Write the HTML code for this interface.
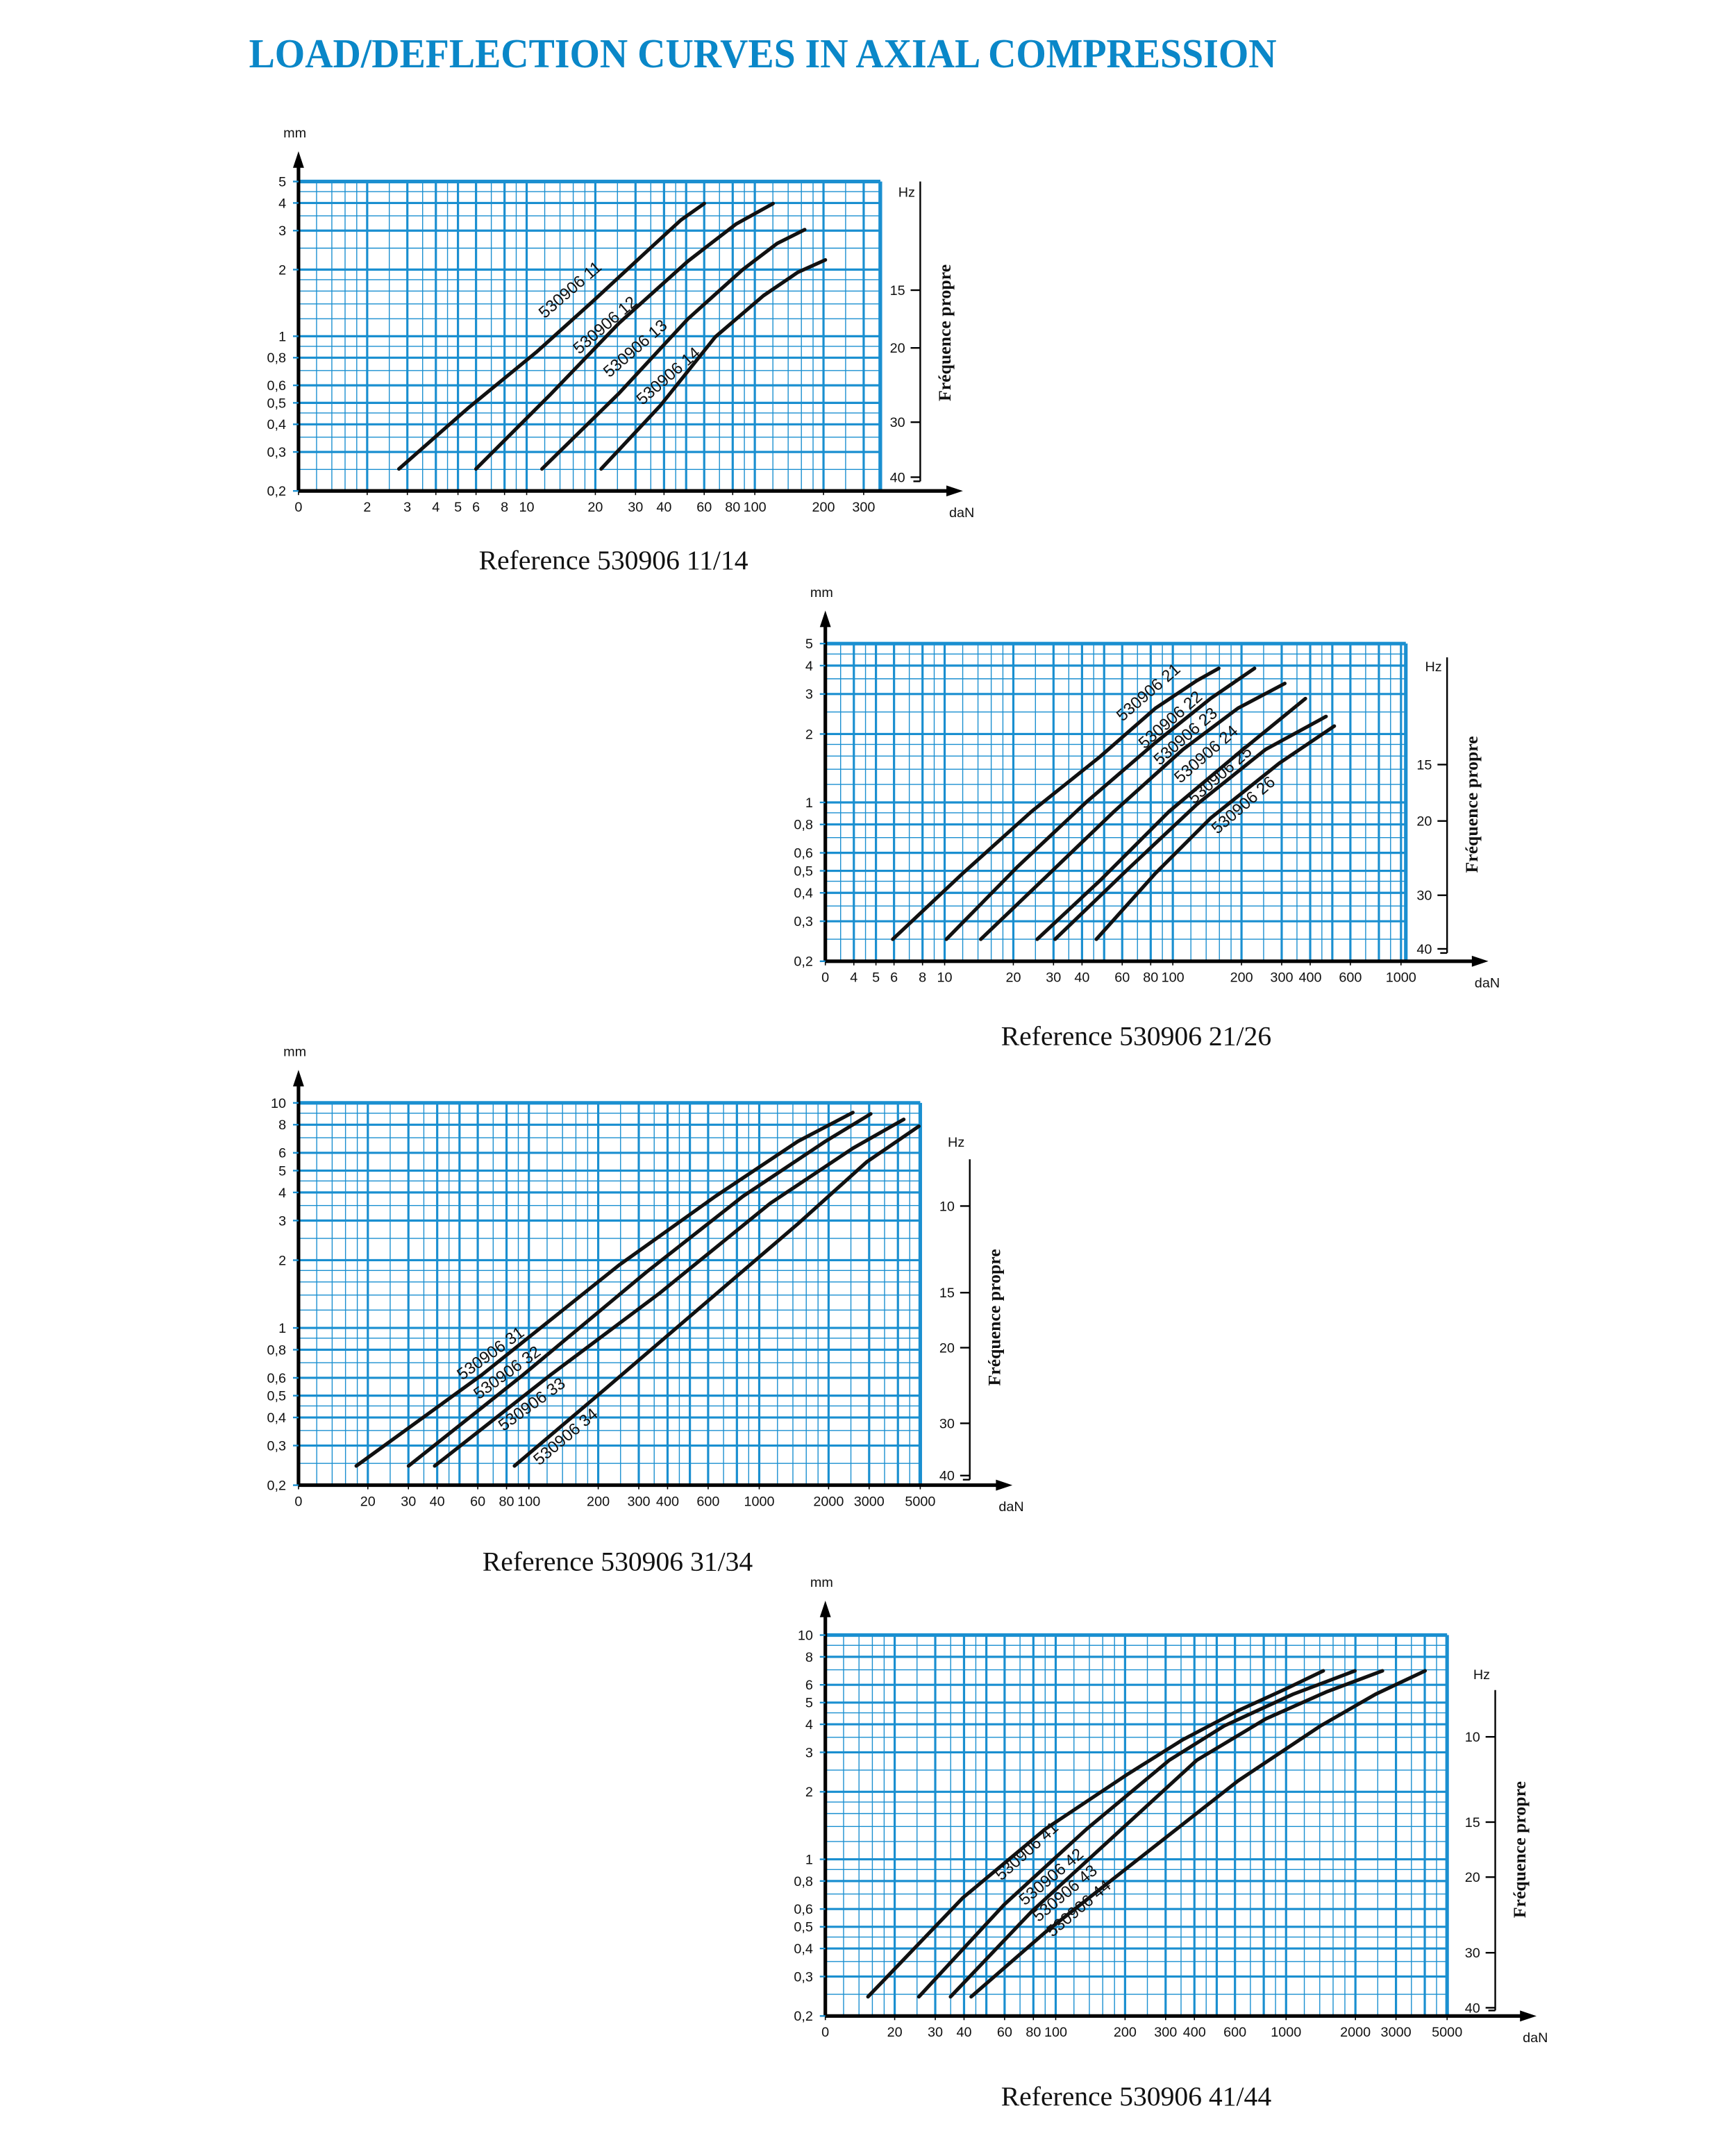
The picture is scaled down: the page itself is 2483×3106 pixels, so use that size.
<!DOCTYPE html>
<html><head><meta charset="utf-8"><style>
html,body{margin:0;padding:0;background:#fff}
svg{display:block}
text{font-family:"Liberation Sans Narrow","Liberation Sans",sans-serif;fill:#111}
.t{font-family:"Liberation Serif",serif;font-weight:bold;fill:#0a87c8}
.ref{font-family:"Liberation Serif",serif;font-size:20px;fill:#111}
.ax{font-size:10px}
.lab{font-size:12px}
.fp{font-family:"Liberation Serif",serif;font-size:13px;font-weight:bold}
</style></head><body>
<svg id="s" width="2483" height="3106" viewBox="0 0 1253.3 1567.8" preserveAspectRatio="none" xmlns="http://www.w3.org/2000/svg">
<text class="t" x="181" y="49" font-size="30" textLength="747" lengthAdjust="spacingAndGlyphs">LOAD/DEFLECTION CURVES IN AXIAL COMPRESSION</text>
<text class="ref" x="446" y="414" text-anchor="middle">Reference 530906 11/14</text>
<text class="ref" x="826" y="760" text-anchor="middle">Reference 530906 21/26</text>
<text class="ref" x="449" y="1142" text-anchor="middle">Reference 530906 31/34</text>
<text class="ref" x="826" y="1531" text-anchor="middle">Reference 530906 41/44</text>
<g id="g"></g>
</svg>
<script>
var NS="http://www.w3.org/2000/svg",G=document.getElementById('g');
function el(n,a,t){var e=document.createElementNS(NS,n);for(var k in a)e.setAttribute(k,a[k]);if(t!==undefined)e.textContent=t;G.appendChild(e);return e;}
var BL="#1a8fd0";
function chart(c){
 var L=c.l,R=c.r,T=c.t,B=c.b,lx0=Math.log10(c.xmin),lx1=Math.log10(c.xmax),ly0=Math.log10(c.ymin),ly1=Math.log10(c.ymax);
 function X(v){return L+(Math.log10(v)-lx0)/(lx1-lx0)*(R-L);}
 function Y(v){return B-(Math.log10(v)-ly0)/(ly1-ly0)*(B-T);}
 var thick=[1,2,3,4,5,6,8],fine=[1.2,1.4,1.6,1.8,2.5,3.5,4.5,7,9];
 for(var d=0.01;d<=10000;d*=10){
  thick.concat(fine).forEach(function(m,i){var v=m*d;var w=i<thick.length?1.6:0.7;
   if(v>c.xmin*1.001&&v<c.xmax*0.999){var x=X(v);el('line',{x1:x,x2:x,y1:T,y2:B,stroke:BL,'stroke-width':w});}
   if(v>c.ymin*1.001&&v<c.ymax*0.999){var y=Y(v);el('line',{x1:L,x2:R,y1:y,y2:y,stroke:BL,'stroke-width':w});}
  });
 }
 el('line',{x1:L,x2:R,y1:T,y2:T,stroke:BL,'stroke-width':2.6});
 el('line',{x1:R,x2:R,y1:T,y2:B,stroke:BL,'stroke-width':2.6});
 el('line',{x1:L,x2:c.ax-8,y1:B,y2:B,stroke:'#000','stroke-width':2.6});
 el('polygon',{points:(c.ax)+','+B+' '+(c.ax-12)+','+(B-4)+' '+(c.ax-12)+','+(B+4),fill:'#000'});
 el('line',{x1:L,x2:L,y1:B,y2:c.ay+8,stroke:'#000','stroke-width':2.6});
 el('polygon',{points:L+','+c.ay+' '+(L-4)+','+(c.ay+12)+' '+(L+4)+','+(c.ay+12),fill:'#000'});
 el('text',{x:L-11,y:c.ay-10,'class':'ax'},'mm');
 el('text',{x:c.ax-10,y:B+19,'class':'ax'},'daN');
 c.xl.forEach(function(v){var x=v==0?L:X(v);el('text',{x:x,y:B+15,'class':'ax','text-anchor':'middle'},String(v));
   el('line',{x1:x,x2:x,y1:B,y2:B+3,stroke:'#000','stroke-width':0.8});});
 c.yl.forEach(function(v){var y=Y(v);el('text',{x:L-9,y:y+3.5,'class':'ax','text-anchor':'end'},String(v).replace('.',','));
   el('line',{x1:L-4,x2:L,y1:y,y2:y,stroke:BL,'stroke-width':1.2});});
 var h=c.hz;
 el('line',{x1:h.x,x2:h.x,y1:h.t,y2:h.b,stroke:'#000','stroke-width':1.2});
 el('line',{x1:h.x-5,x2:h.x,y1:h.b,y2:h.b,stroke:'#000','stroke-width':1.2});
 el('text',{x:h.x-16,y:h.hy,'class':'ax'},'Hz');
 h.ticks.forEach(function(p){el('line',{x1:h.x-7,x2:h.x,y1:p[1],y2:p[1],stroke:'#000','stroke-width':1.2});
   el('text',{x:h.x-11,y:p[1]+3.5,'class':'ax','text-anchor':'end'},p[0]);});
 el('text',{'class':'fp',transform:'translate('+(h.x+22)+','+h.fy+') rotate(-90)','text-anchor':'middle'},'Fréquence propre');
 c.curves.forEach(function(p){el('polyline',{points:p.map(function(q){return q.join(',')}).join(' '),fill:'none',stroke:'#111','stroke-width':2.6,'stroke-linejoin':'round','stroke-linecap':'round'});});
 c.labels.forEach(function(p){el('text',{'class':'lab',transform:'translate('+p[1]+','+p[2]+') rotate('+(p[3]||-41)+')'},p[0]);});
}
chart({l:217,r:640,t:132,b:357,xmin:1,xmax:355,ymin:0.2,ymax:5,ax:700,ay:110,
 xl:[0,2,3,4,5,6,8,10,20,30,40,60,80,100,200,300],yl:[0.2,0.3,0.4,0.5,0.6,0.8,1,2,3,4,5],
 hz:{x:669,t:132,b:350,hy:143,fy:242,ticks:[['15',211],['20',253],['30',307],['40',347]]},
 curves:[[[290,341],[340,297],[390,256],[430,220],[470,183],[495,160],[512,148]],
 [[346,341],[400,287],[450,235],[500,190],[535,163],[562,148]],
 [[394,341],[450,286],[500,232],[540,196],[565,177],[585,167]],
 [[437,341],[480,295],[520,245],[555,215],[580,198],[600,189]]],
 labels:[['530906 11',396,232],['530906 12',421,258],['530906 13',443,275],['530906 14',467,295]]});
chart({l:600,r:1022,t:468,b:699,xmin:3,xmax:1050,ymin:0.2,ymax:5,ax:1082,ay:444,
 xl:[0,4,5,6,8,10,20,30,40,60,80,100,200,300,400,600,1000],yl:[0.2,0.3,0.4,0.5,0.6,0.8,1,2,3,4,5],
 hz:{x:1052,t:478,b:693,hy:488,fy:585,ticks:[['15',556],['20',597],['30',651],['40',690]]},
 curves:[[[649,683],[700,635],[750,590],[800,550],[840,515],[870,495],[886,486]],
 [[688,683],[740,630],[790,583],[840,540],[880,508],[912,486]],
 [[713,683],[760,638],[810,590],[860,545],[900,515],[934,497]],
 [[754,683],[800,640],[850,590],[900,548],[949,508]],
 [[767,683],[820,632],[870,585],[920,545],[964,521]],
 [[797,683],[840,635],[880,595],[930,555],[970,528]]],
 labels:[['530906 21',816,525],['530906 22',832,545],['530906 23',843,557],['530906 24',858,570],['530906 25',868,585],['530906 26',885,607]]});
chart({l:217,r:669,t:802,b:1080,xmin:10,xmax:5000,ymin:0.2,ymax:10,ax:736,ay:778,
 xl:[0,20,30,40,60,80,100,200,300,400,600,1000,2000,3000,5000],yl:[0.2,0.3,0.4,0.5,0.6,0.8,1,2,3,4,5,6,8,10],
 hz:{x:705,t:843,b:1076,hy:834,fy:958,ticks:[['10',877],['15',940],['20',980],['30',1035],['40',1073]]},
 curves:[[[259,1066],[350,1000],[450,920],[520,870],[580,830],[620,809]],
 [[297,1066],[380,1000],[470,925],[540,870],[600,830],[633,810]],
 [[316,1066],[400,1000],[480,940],[560,875],[620,835],[657,814]],
 [[374,1066],[440,1010],[510,950],[580,890],[630,845],[668,819]]],
 labels:[['530906 31',336,1004,-36],['530906 32',348,1018,-36],['530906 33',366,1041,-36],['530906 34',392,1066,-40]]});
chart({l:600,r:1052,t:1189,b:1466,xmin:10,xmax:5000,ymin:0.2,ymax:10,ax:1117,ay:1164,
 xl:[0,20,30,40,60,80,100,200,300,400,600,1000,2000,3000,5000],yl:[0.2,0.3,0.4,0.5,0.6,0.8,1,2,3,4,5,6,8,10],
 hz:{x:1087,t:1229,b:1462,hy:1221,fy:1345,ticks:[['10',1263],['15',1325],['20',1365],['30',1420],['40',1460]]},
 curves:[[[631,1452],[700,1380],[760,1330],[820,1290],[860,1265],[900,1244],[935,1228],[962,1215]],
 [[668,1452],[730,1385],[790,1330],[850,1280],[890,1255],[940,1232],[985,1215]],
 [[691,1452],[750,1390],[810,1335],[870,1280],[920,1250],[965,1230],[1005,1215]],
 [[706,1452],[760,1405],[830,1350],[900,1295],[960,1255],[1000,1232],[1036,1215]]],
 labels:[['530906 41',728,1368,-42],['530906 42',745,1386,-40],['530906 43',755,1398,-40],['530906 44',765,1409,-40]]});
</script>
</body></html>
